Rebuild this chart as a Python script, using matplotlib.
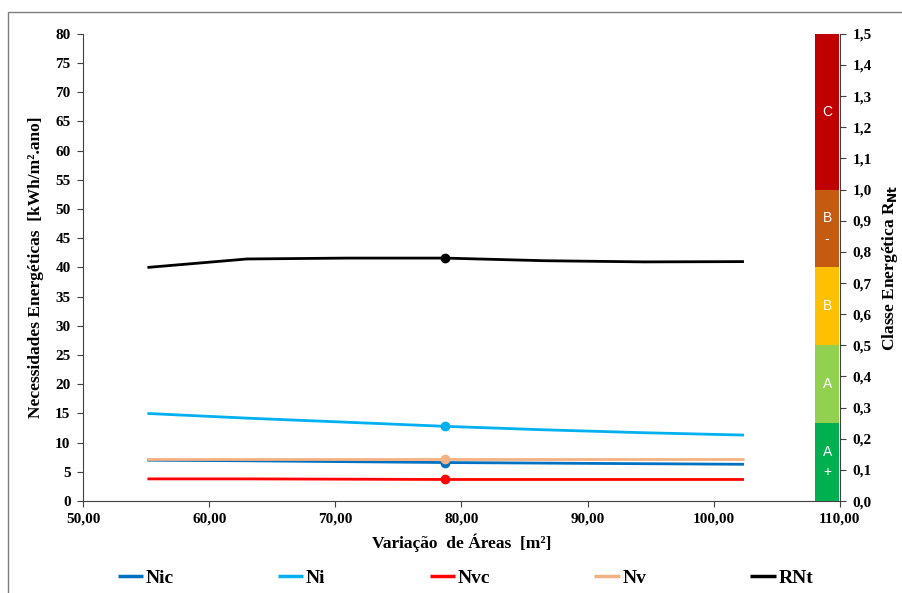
import matplotlib
matplotlib.use("Agg")
import matplotlib.pyplot as plt
import matplotlib.patches as patches
from matplotlib.ticker import FuncFormatter, MultipleLocator

# dados
areas = [55.1, 63.0, 70.9, 78.7, 86.6, 94.5, 102.4]
nic = [7.0, 6.9, 6.75, 6.6, 6.5, 6.4, 6.3]
ni = [15.0, 14.2, 13.5, 12.8, 12.2, 11.7, 11.3]
nvc = [3.8, 3.8, 3.75, 3.7, 3.7, 3.7, 3.7]
nv = [7.2, 7.2, 7.2, 7.2, 7.2, 7.2, 7.2]
rnt = [40.0, 41.45, 41.6, 41.6, 41.15, 40.95, 41.0]
ponto_ref = 3  # indice do ponto marcado

classes = ["A\n+", "A", "B", "B\n-", "C"]
classe_min = [0.0, 0.25, 0.5, 0.75, 1.0]
classe_max = [0.25, 0.5, 0.75, 1.0, 1.5]
classe_cor = ["#00B050", "#92D050", "#FFC000", "#C55A11", "#C00000"]

serif = "Liberation Serif"
plt.rcParams['font.family'] = serif
plt.rcParams['font.weight'] = 'bold'

fig = plt.figure(figsize=(9.03, 5.93), dpi=100)
ax = fig.add_axes([0.092, 0.155, 0.838, 0.788])

series = [("Nic", nic, "#0070C0"), ("Ni", ni, "#00B0F0"), ("Nvc", nvc, "#FF0000"),
          ("Nv", nv, "#F4B183"), ("RNt", rnt, "black")]
for nome, vals, cor in series:
    ax.plot(areas, vals, color=cor, lw=2, marker='o', ms=6, markevery=[ponto_ref],
            label=nome, solid_joinstyle='round', solid_capstyle='butt')

ax.set_xlim(50, 110)
ax.set_ylim(0, 80)
ax.xaxis.set_major_locator(MultipleLocator(10))
ax.yaxis.set_major_locator(MultipleLocator(5))
ax.xaxis.set_major_formatter(FuncFormatter(lambda v, p: ("%.2f" % v).replace('.', ',')))
ax.tick_params(axis='both', labelsize=11, length=4, color='#404040')
ax.tick_params(axis='y', pad=5)
ax.tick_params(axis='x', pad=4)
for s in ['top', 'right']:
    ax.spines[s].set_visible(False)
for s in ['left', 'bottom']:
    ax.spines[s].set_color('#404040')
ax.set_xlabel("Variação  de Áreas  [m²]", fontsize=12.5, fontweight='bold', labelpad=6)
ax.set_ylabel("Necessidades Energéticas  [kWh/m².ano]", fontsize=12.5, fontweight='bold', labelpad=8)

ax2 = ax.twinx()
ax2.set_ylim(0, 1.5)
for nome, y0, y1, cor in zip(classes, classe_min, classe_max, classe_cor):
    ax2.bar(109, y1 - y0, bottom=y0, width=1.9, color=cor, zorder=1)
    ax2.text(109, (y0 + y1) / 2, nome, color='white', ha='center', va='center',
             fontsize=10, fontweight='normal', family='Liberation Sans', linespacing=1.6)
ax2.yaxis.set_major_locator(MultipleLocator(0.1))
ax2.yaxis.set_major_formatter(FuncFormatter(lambda v, p: ("%.1f" % v).replace('.', ',')))
ax2.tick_params(axis='y', labelsize=11, length=4, color='#404040', pad=5)
for s in ['top', 'left', 'bottom']:
    ax2.spines[s].set_visible(False)
ax2.spines['right'].set_color('#404040')
ax2.set_ylabel("Classe Energética R$_\\mathbf{Nt}$", fontsize=12.5, fontweight='bold', labelpad=6)

leg = fig.legend(loc='center', bbox_to_anchor=(0.5155, 0.025), ncol=5, frameon=False,
                 fontsize=14, handlelength=1.3, handletextpad=0.15, columnspacing=5.35)
for h in leg.legend_handles:
    h.set_marker('')
    h.set_linewidth(2.5)

# moldura do grafico
fig.patches.append(patches.Rectangle((8 / 903, -0.1), 1.2, (593 - 12) / 593 + 0.1,
                                     transform=fig.transFigure, fill=False,
                                     edgecolor='#7f7f7f', lw=1))

fig.savefig("out.png", dpi=100)
